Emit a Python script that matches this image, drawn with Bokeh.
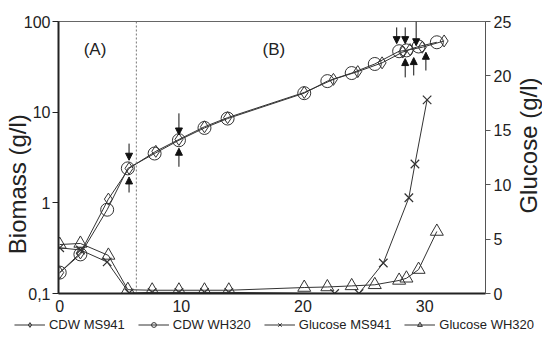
import math
from bokeh.plotting import figure
from bokeh.layouts import column, row
from bokeh.models import (Range1d, LinearAxis, LinearScale, FixedTicker, Span, Arrow,
                          NormalHead, Legend, LegendItem)
from bokeh.core.properties import value
from bokeh.embed import file_html
from bokeh.resources import INLINE

# ---- data ----
t_cdw_ms941 = [0, 1.7, 4.0, 5.7, 7.9, 9.8, 11.9, 13.8, 20.1, 22.5, 24.5, 26.5, 28.2, 28.8, 29.8, 31.6]
cdw_ms941 = [0.17, 0.28, 1.1, 2.4, 3.7, 5.0, 6.9, 8.7, 16.5, 23, 28, 35, 46, 49, 52, 61]

t_cdw_wh320 = [0, 1.7, 3.9, 5.6, 7.8, 9.8, 11.9, 13.8, 20.1, 22.0, 24.0, 25.9, 27.9, 28.5, 29.5, 31.0]
cdw_wh320 = [0.17, 0.27, 0.84, 2.4, 3.5, 4.9, 6.7, 8.5, 16.2, 22, 27, 34, 47, 48, 53, 59]

t_glc_ms941 = [0, 1.7, 3.9, 5.7, 7.6, 9.8, 11.9, 13.9, 22.6, 24.6, 26.6, 28.7, 29.2, 30.2]
glc_ms941 = [4.2, 4.0, 2.9, 0.05, 0.1, 0.1, 0.1, 0.1, 0.0, 0.0, 2.8, 8.8, 11.9, 17.8]

t_glc_wh320 = [0, 1.7, 4.0, 5.6, 7.6, 9.8, 11.9, 13.9, 20.1, 22.0, 24.0, 25.9, 27.9, 28.5, 29.5, 31.0]
glc_wh320 = [4.5, 4.6, 3.5, 0.35, 0.3, 0.3, 0.3, 0.3, 0.55, 0.6, 0.7, 0.8, 1.2, 1.4, 2.2, 5.7]

# sampling arrows (time, biomass at tail, biomass at tip)
down_t = [5.7, 9.8, 27.7, 28.4, 29.3]
down_tail = [4.5, 9.7, 86, 86, 100]
down_tip = [2.95, 5.6, 57, 57, 54]
up_t = [5.7, 9.8, 28.4, 29.1, 30.1]
up_tail = [1.3, 2.5, 24.2, 25.4, 28.8]
up_tip = [1.93, 4.0, 39, 40, 45.8]

phase_split = 6.3
phase_labels = ["(A)", "(B)"]
phase_label_t = [2.9, 17.6]
phase_label_y = [49, 49]

biomass_ticks = [0.1, 1, 10, 100]
biomass_tick_labels = {0.1: "0,1", 1: "1", 10: "10", 100: "100"}
glucose_ticks = [0, 5, 10, 15, 20, 25]
time_ticks = [0, 10, 20, 30]
series_names = ["CDW MS941", "CDW WH320", "Glucose MS941", "Glucose WH320"]

FONT = "Liberation Sans"
INK = "#222222"
NB = "\u00a0"
LC = "#333333"
TOP, BOTTOM, FH = 21, 25, 272

p = figure(frame_width=427, frame_height=FH, y_axis_type="log", output_backend="svg",
           toolbar_location=None, x_range=Range1d(-0.1, 35), y_range=Range1d(0.1, 100),
           min_border_left=53, min_border_right=26, min_border_top=TOP,
           min_border_bottom=BOTTOM)
p.extra_y_ranges = {"glu": Range1d(0, 25)}
p.extra_y_scales = {"glu": LinearScale()}
p.grid.visible = False
p.outline_line_color = "#666666"
p.outline_line_width = 1

# axes
xa = p.xaxis[0]
xa.ticker = FixedTicker(ticks=time_ticks)
xa.major_tick_out = 0
xa.major_tick_in = 0
xa.minor_tick_out = 0
xa.minor_tick_in = 0
xa.axis_line_color = INK
xa.axis_line_width = 2
xa.major_label_text_font = FONT
xa.major_label_text_font_size = "16px"
xa.major_label_text_color = INK
xa.major_label_standoff = 6

ya = p.yaxis[0]
ya.ticker = FixedTicker(ticks=biomass_ticks)
ya.major_label_overrides = biomass_tick_labels
ya.major_tick_out = 6
ya.major_tick_in = 0
ya.minor_tick_out = 0
ya.minor_tick_in = 0
ya.axis_line_color = INK
ya.axis_line_width = 2
ya.major_tick_line_color = INK
ya.major_label_text_font = FONT
ya.major_label_text_font_size = "16px"
ya.major_label_text_color = INK
ya.major_label_standoff = 2
ya.axis_label = "Biomass (g/l)" + NB * 8
ya.axis_label_text_font = FONT
ya.axis_label_text_font_size = "24px"
ya.axis_label_text_font_style = "normal"
ya.axis_label_text_color = INK
ya.axis_label_standoff = -10

ra = LinearAxis(y_range_name="glu", ticker=FixedTicker(ticks=glucose_ticks))
ra.major_tick_out = 5
ra.major_tick_in = 0
ra.minor_tick_out = 0
ra.minor_tick_in = 0
ra.axis_line_color = "#555555"
ra.major_tick_line_color = "#555555"
ra.major_label_text_font = FONT
ra.major_label_text_font_size = "16px"
ra.major_label_text_color = INK
ra.major_label_standoff = 3
p.add_layout(ra, "right")

# phase split
p.add_layout(Span(location=phase_split, dimension="height", line_color="#777777",
                  line_width=1, line_dash="2 2"))

# series
p.line(t_cdw_ms941, cdw_ms941, line_color=LC, line_width=1)
p.scatter(t_cdw_ms941, cdw_ms941, marker="diamond", size=12, line_color=LC,
          fill_alpha=0, line_width=1)
p.line(t_cdw_wh320, cdw_wh320, line_color=LC, line_width=1)
p.scatter(t_cdw_wh320, cdw_wh320, marker="circle", size=13, line_color=LC,
          fill_alpha=0, line_width=1)
p.line(t_glc_ms941, glc_ms941, line_color=LC, line_width=1, y_range_name="glu")
p.scatter(t_glc_ms941, glc_ms941, marker="x", size=12, line_color=LC,
          line_width=1.2, y_range_name="glu")
p.line(t_glc_wh320, glc_wh320, line_color=LC, line_width=1, y_range_name="glu")
p.scatter(t_glc_wh320, glc_wh320, marker="triangle", size=13, line_color=LC,
          fill_alpha=0, line_width=1, y_range_name="glu")

# arrows
for tt, a, b in zip(down_t + up_t, down_tail + up_tail, down_tip + up_tip):
    p.add_layout(Arrow(x_start=tt, y_start=a, x_end=tt, y_end=b, line_color="#111111",
                       line_width=1, end=NormalHead(size=7, fill_color="#111111",
                                                    line_color="#111111")))

# phase labels
p.text(x=phase_label_t, y=phase_label_y, text=phase_labels, text_font=value(FONT),
       text_font_size="17px", text_color=INK, text_align="center", text_baseline="middle")

# ---- right axis title strip (same vertical frame as the plot, glucose units) ----
r = figure(frame_width=28, frame_height=FH, output_backend="svg", toolbar_location=None,
           x_range=Range1d(0, 1), y_range=Range1d(0, 25),
           x_axis_location=None, y_axis_location=None,
           min_border_left=0, min_border_right=0, min_border_top=TOP,
           min_border_bottom=BOTTOM)
r.grid.visible = False
r.outline_line_color = None
r.text(x=[0.5], y=[13.6], text=["Glucose (g/l)"], angle=math.pi / 2,
       text_font=value(FONT), text_font_size="24px", text_color=INK,
       text_align="center", text_baseline="middle")

# ---- legend strip ----
q = figure(width=534, height=12, output_backend="svg", toolbar_location=None,
           x_range=Range1d(-100, -99), y_range=Range1d(-100, -99),
           x_axis_location=None, y_axis_location=None, min_border=0)
q.grid.visible = False
q.outline_line_color = None
ql1 = q.line(t_cdw_ms941, cdw_ms941, line_color=LC, line_width=1)
qm1 = q.scatter(t_cdw_ms941, cdw_ms941, marker="diamond", size=9, line_color=LC, fill_alpha=0)
ql2 = q.line(t_cdw_wh320, cdw_wh320, line_color=LC, line_width=1)
qm2 = q.scatter(t_cdw_wh320, cdw_wh320, marker="circle", size=10, line_color=LC, fill_alpha=0)
ql3 = q.line(t_glc_ms941, glc_ms941, line_color=LC, line_width=1)
qm3 = q.scatter(t_glc_ms941, glc_ms941, marker="x", size=10, line_color=LC)
ql4 = q.line(t_glc_wh320, glc_wh320, line_color=LC, line_width=1)
qm4 = q.scatter(t_glc_wh320, glc_wh320, marker="triangle", size=10, line_color=LC, fill_alpha=0)

legend = Legend(items=[
    LegendItem(label=series_names[0], renderers=[ql1, qm1]),
    LegendItem(label=series_names[1], renderers=[ql2, qm2]),
    LegendItem(label=series_names[2], renderers=[ql3, qm3]),
    LegendItem(label=series_names[3], renderers=[ql4, qm4]),
], orientation="horizontal", location="right")
legend.label_text_font = FONT
legend.label_text_font_size = "13px"
legend.label_text_color = INK
legend.glyph_width = 31
legend.glyph_height = 12
legend.label_height = 12
legend.label_standoff = 4
legend.spacing = 13
legend.padding = 0
legend.margin = 0
legend.border_line_color = None
legend.background_fill_alpha = 0
q.add_layout(legend, "center")

layout = column(row(p, r, spacing=0), q, spacing=0)
open("out.html", "w").write(file_html(layout, INLINE))
